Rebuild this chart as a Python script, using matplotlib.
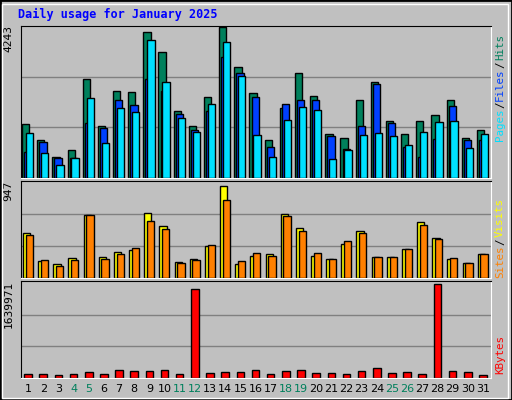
import matplotlib
matplotlib.use("Agg")
import matplotlib.pyplot as plt
import numpy as np

days = list(range(1, 32))
weekend = [4, 5, 11, 12, 18, 19, 25, 26]
hits = [1500, 1050, 580, 770, 2780, 1450, 2440, 2410, 4110, 3550, 1880, 1450, 2270, 4243, 3120, 2380, 1050, 1960, 2950, 2300, 1230, 1120, 2190, 2680, 1600, 1230, 1600, 1760, 2190, 1120, 1340]
files = [720, 1000, 550, 550, 1540, 1400, 2190, 2050, 2780, 2440, 1790, 1340, 1880, 3400, 2950, 2270, 860, 2080, 2190, 2190, 1170, 800, 1450, 2640, 1540, 860, 570, 1080, 2020, 1050, 1050]
pages = [1250, 690, 350, 550, 2240, 970, 1960, 1850, 3880, 2700, 1680, 1280, 2080, 3830, 2870, 1200, 570, 1620, 1990, 1900, 520, 770, 1200, 1250, 1170, 920, 1280, 1570, 1600, 830, 1230]
visits = [444, 168, 138, 197, 622, 207, 257, 276, 641, 513, 158, 188, 316, 907, 138, 217, 237, 632, 493, 217, 188, 336, 464, 207, 207, 286, 553, 395, 188, 148, 237]
sites = [424, 178, 118, 178, 622, 188, 237, 296, 562, 484, 148, 178, 326, 770, 168, 247, 217, 612, 464, 247, 188, 365, 444, 207, 207, 286, 523, 385, 197, 148, 237]
kbytes = [57000, 57000, 40000, 57000, 92000, 57000, 126000, 109000, 109000, 126000, 57000, 1560000, 75000, 92000, 92000, 126000, 57000, 109000, 126000, 75000, 75000, 57000, 109000, 160000, 75000, 92000, 57000, 1639971, 109000, 92000, 40000]

W, H = 512, 400
fig = plt.figure(figsize=(W/100, H/100), dpi=100)
fig.patch.set_facecolor('#C0C0C0')
fig.add_artist(plt.Rectangle((0, 0), 1, 1, transform=fig.transFigure, fill=False, ec='black', lw=2))
fig.add_artist(plt.Rectangle((2/W, 2/H), 1-6/W, 1-6/H, transform=fig.transFigure, fill=False, ec='white', lw=1))

x0, x1 = 20.5, 490.5
def ax_at(top, bottom):
    return fig.add_axes([x0/W, 1-bottom/H, (x1-x0)/W, (bottom-top)/H])

x = np.array(days)
ek = dict(edgecolor='black', linewidth=1)

def style(ax, vmax):
    ax.set_facecolor('#C0C0C0')
    ax.set_xlim(0.5, 31.5)
    for f in (1/3, 2/3):
        ax.axhline(vmax*f, color='#808080', lw=1, zorder=0)
    ax.set_xticks([]); ax.set_yticks([])
    for s in ax.spines.values():
        s.set_color('black')
    ax.spines['right'].set_color('white'); ax.spines['bottom'].set_color('white')
    ax.text(-0.025, 1.0, f"{vmax}", transform=ax.transAxes, rotation=90, ha='center', va='top',
            family='DejaVu Sans Mono', fontsize=8)

ax1 = ax_at(25.5, 177.5)
ax1.bar(x-0.16, hits, width=0.48, color='#00805C', **ek, zorder=2)
ax1.bar(x-0.02, files, width=0.48, color='#0040FF', **ek, zorder=3)
ax1.bar(x+0.1, pages, width=0.48, color='#00E0FF', **ek, zorder=4)
style(ax1, 4243); ax1.set_ylim(0, 4243*1.01)

ax2 = ax_at(180.5, 277.5)
ax2.bar(x-0.1, visits, width=0.48, color='#FFFF00', **ek, zorder=2)
ax2.bar(x+0.08, sites, width=0.48, color='#FF8000', **ek, zorder=3)
style(ax2, 947); ax2.set_ylim(0, 947*1.02)

ax3 = ax_at(280.5, 377.5)
ax3.bar(x, kbytes, width=0.5, color='#FF0000', **ek, zorder=2)
style(ax3, 1639971); ax3.set_ylim(0, 1639971*1.04)

for d in days:
    fig.text((x0 + (d-0.5)*(x1-x0)/31)/W, 1-389/H, str(d), ha='center', va='center', fontsize=8,
             color='#00805C' if d in weekend else 'black')

fig.text(18/W, 1-14/H, "Daily usage for January 2025", color='#0000FF', fontweight='bold',
         family='DejaVu Sans Mono', fontsize=8.5, va='center')

def rlabel(ycenter, parts):
    total = sum(len(p[0]) for p in parts)
    ch = 6.75
    y = ycenter + total*ch/2
    for s, c in parts:
        fig.text(500/W, 1-(y - len(s)*ch/2)/H, s, rotation=90, ha='center', va='center',
                 color=c, family='DejaVu Sans Mono', fontsize=7.8)
        y -= len(s)*ch

rlabel(88, [("Pages", '#00E0FF'), ("/", 'black'), ("Files", '#0040FF'), ("/", 'black'), ("Hits", '#00805C')])
rlabel(238, [("Sites", '#FF8000'), ("/", 'black'), ("Visits", '#FFFF00')])
rlabel(355, [("KBytes", '#FF0000')])

fig.savefig('out.png', dpi=100, facecolor=fig.get_facecolor())
